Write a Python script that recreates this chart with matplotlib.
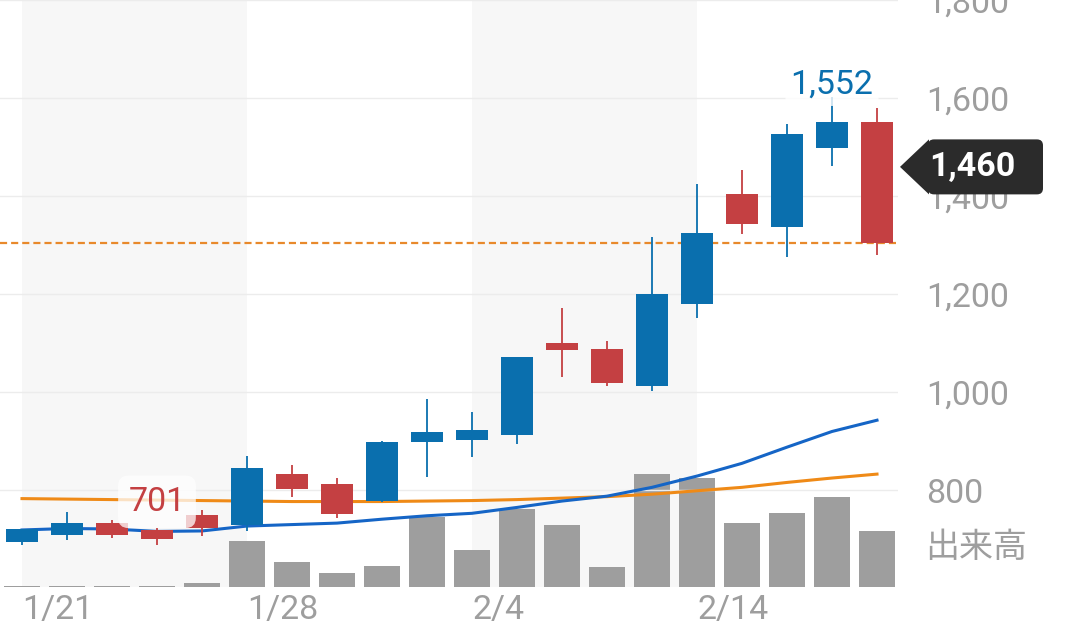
import numpy as np
import matplotlib.pyplot as plt
from matplotlib import transforms
from matplotlib.patches import Polygon, FancyBboxPatch

plt.rcParams['font.family'] = ['Roboto', 'Noto Sans CJK JP', 'DejaVu Sans']

# daily candles, 1/20 .. (20 sessions)
opens = [694, 709, 733, 719, 749, 729, 833, 813, 779, 898,
         903, 913, 1101, 1088, 1013, 1180, 1404, 1337, 1499, 1552]
highs = [721, 756, 739, 722, 759, 869, 852, 826, 900, 986,
         960, 1072, 1171, 1105, 1317, 1425, 1454, 1547, 1603, 1580]
lows = [688, 698, 702, 688, 707, 717, 787, 743, 777, 828,
        868, 894, 1032, 1013, 1003, 1151, 1324, 1277, 1462, 1280]
closes = [720, 733, 708, 701, 722, 845, 802, 751, 899, 919,
          922, 1071, 1086, 1018, 1201, 1326, 1344, 1527, 1552, 1304]
volume = [5, 5, 5, 4, 15, 183, 100, 55, 83, 279,
          148, 311, 248, 81, 451, 436, 255, 295, 361, 223]
ma_short = [719, 722, 721, 716, 717, 727, 730, 733, 741, 748,
            753, 765, 778, 788, 806, 829, 855, 888, 920, 943]
ma_long = [783, 782, 781, 780, 779, 778, 777, 777, 777, 778,
           779, 781, 784, 787, 792, 799, 806, 816, 825, 833]

tick_idx = [0, 5, 10, 15]
tick_labels = ['1/21', '1/28', '2/4', '2/14']
week_bands = [(0, 5), (10, 15)]
price_ticks = [800, 1000, 1200, 1400, 1600, 1800]
ref_price = 1304
current_price = 1460

BLUE = '#0a6fae'
RED = '#c44042'
GRAY = '#9e9e9e'

W, H, DPI = 1080, 642, 100
fig = plt.figure(figsize=(W / DPI, H / DPI), dpi=DPI)
rect = [0, 55 / H, 898 / W, 587 / H]
ax_vol = fig.add_axes(rect)
ax = fig.add_axes(rect, sharex=ax_vol)
ax_vol.set_zorder(1)
ax.set_zorder(2)
ax.patch.set_visible(False)

x = np.arange(len(closes))
ax_vol.set_xlim(-22 / 45, 876 / 45)

# volume layer
for a, b in week_bands:
    ax_vol.axvspan(a, b, color='#f7f7f7', lw=0)
ax_vol.bar(x, volume, width=0.8, color=GRAY)
ax_vol.set_ylim(0, 2348)
ax_vol.set_yticks([])
for s in ax_vol.spines.values():
    s.set_visible(False)
ax_vol.tick_params(axis='x', length=0, labelbottom=False)

# price layer
ylo, yhi = 602.6, 1800.6
ax.set_ylim(ylo, yhi)
ax.set_yticks(price_ticks, [f'{v:,}' for v in price_ticks])
ax.yaxis.tick_right()
ax.grid(axis='y', color='#ececec', lw=1)
ax.tick_params(axis='y', length=0, pad=20, labelsize=24.5, labelcolor=GRAY)
ax.set_xticks(tick_idx, tick_labels)
for lbl in ax.get_xticklabels():
    lbl.set_ha('left')
ax.tick_params(axis='x', length=0, pad=5, labelsize=24.5, labelcolor=GRAY)
for s in ax.spines.values():
    s.set_visible(False)

ax.plot(x, ma_long, color='#ef8a17', lw=2.2, zorder=2)
ax.plot(x, ma_short, color='#1565c6', lw=2.2, zorder=2)
ax.axhline(ref_price, color='#e8892b', lw=1.6, ls=(0, (3.2, 1.8)), zorder=2)

cols = [BLUE if c >= o else RED for o, c in zip(opens, closes)]
ax.vlines(x, lows, highs, colors=cols, lw=1.3, zorder=3)
body_lo = np.minimum(opens, closes)
body_h = np.abs(np.array(closes) - np.array(opens))
ax.bar(x, body_h, bottom=body_lo, width=0.69, color=cols, zorder=4)

# max / min close labels
imax = int(np.argmax(closes))
imin = int(np.argmin(closes))
ax.annotate(f'{closes[imax]:,}', (imax, closes[imax]), xytext=(0, 26.6),
            textcoords='offset points', ha='center', va='center', color=BLUE,
            fontsize=24.5, zorder=6,
            bbox=dict(boxstyle='round,pad=0.15', fc='white', ec='none', alpha=0.8))
ax.annotate(f'{closes[imin]:,}', (imin, closes[imin]), xytext=(0, 26.6),
            textcoords='offset points', ha='center', va='center', color=RED,
            fontsize=24.5, zorder=6,
            bbox=dict(boxstyle='round,pad=0.3', fc='white', ec='none', alpha=0.75))

# current price badge
px = (yhi - ylo) / 587
dy = 27.5 * px
trans = transforms.blended_transform_factory(ax.transAxes, ax.transData)
tri = Polygon([(900 / 898, current_price), (929 / 898, current_price + dy),
               (929 / 898, current_price - dy)], closed=True, transform=trans,
              fc='#2b2b2b', ec='none', clip_on=False, zorder=10)
box = FancyBboxPatch((928 / 898, current_price - dy), 115 / 898, 2 * dy,
                     boxstyle='round,pad=0,rounding_size=0.0067',
                     mutation_aspect=px * 898, transform=trans,
                     fc='#2b2b2b', ec='none', clip_on=False, zorder=10)
ax.add_patch(tri)
ax.add_patch(box)
ax.text(929 / 898, current_price, f'{current_price:,}', transform=trans,
        ha='left', va='center', color='white', fontweight='bold',
        fontsize=24.5, zorder=11, clip_on=False)

fig.text(925 / W, 1 - 548 / H, '出来高', ha='left', va='center',
         fontsize=24.5, color=GRAY)

fig.savefig('out.png', dpi=DPI)
